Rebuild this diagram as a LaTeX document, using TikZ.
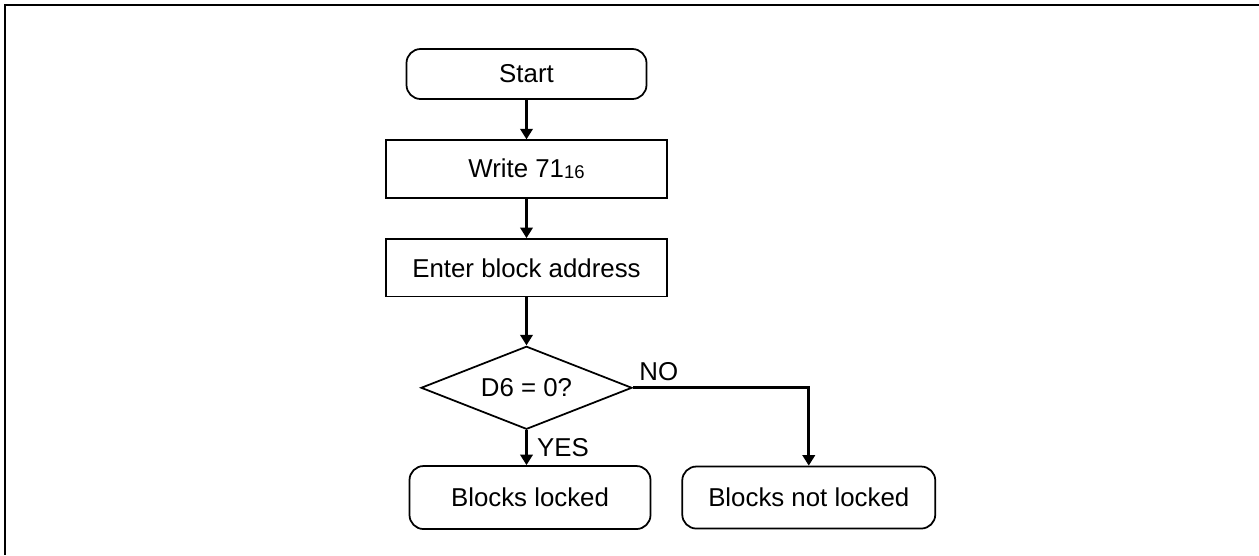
\documentclass[tikz,border=0pt]{standalone}
\usepackage{fontspec}
\setmainfont{Liberation Sans}
\usetikzlibrary{arrows.meta, positioning, shapes.geometric}

\begin{document}
\begin{tikzpicture}[font=\fontsize{14.7}{17}\selectfont, node distance=0.79cm,
  termbox/.style={draw, line width=1pt, rounded corners=8pt, align=center},
  procbox/.style={draw, line width=1pt, minimum width=5.62cm, minimum height=1.15cm},
  decbox/.style={draw, line width=1pt, diamond, aspect=2.5, minimum width=4.22cm, minimum height=1.66cm, inner sep=0pt},
  flow/.style={line width=1.5pt, -{Triangle[length=6pt, width=7pt]}}]
\useasboundingbox (0,0) rectangle (25.18,-11.1);
\draw[line width=1.1pt] (25.18,-0.1) -- (0.1,-0.1) -- (0.1,-11.1);
\node[termbox, minimum width=4.8cm, minimum height=1.0cm] (start) at (10.53,-1.48) {Start};
\node[procbox, below=of start] (write) {Write 71\raisebox{-0.6pt}{\fontsize{10.5}{12}\selectfont 16}};
\node[procbox, below=of write] (enter) {Enter block address};
\node[decbox, below=0.96cm of enter] (dec) {D6 = 0?};
\node[termbox, minimum width=4.82cm, minimum height=1.26cm, below=0.7cm of dec, xshift=0.07cm] (locked) {Blocks locked};
\node[termbox, minimum width=5.06cm, minimum height=1.24cm, right=0.6cm of locked] (notlocked) {Blocks not locked};
\draw[flow] (start) -- (write);
\draw[flow] (write) -- (enter);
\draw[flow] (enter) -- (dec);
\draw[flow] (dec.south) -- node[right, xshift=2pt] {YES} (dec.south |- locked.north);
\draw[flow] (dec.east) -| node[pos=0, above right, inner sep=3pt] {NO} (notlocked.north);
\end{tikzpicture}
\end{document}
